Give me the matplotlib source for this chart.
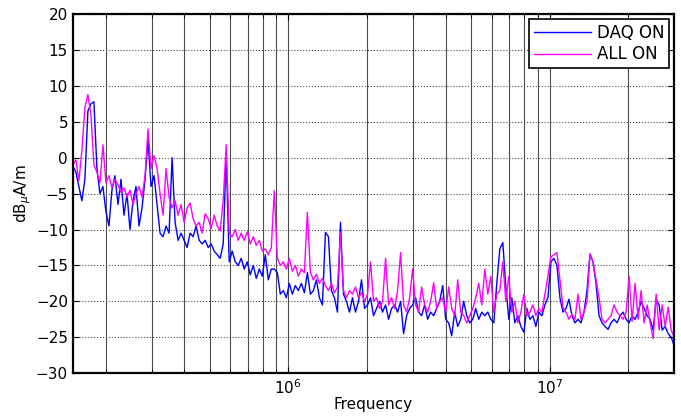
import numpy as np
import matplotlib
matplotlib.use('Agg')
import matplotlib.pyplot as plt
import matplotlib.ticker as mtick

# measured levels in dBuA/m, one value per sweep point (150 kHz .. 30 MHz, log sweep)
daq_on = [
    -1.2, -2.0, -4.0, -6.0, -3.0, 6.5, 7.5, 7.8, -1.5, -5.0,
    -4.0, -7.5, -9.5, -4.5, -2.5, -6.5, -3.0, -8.0, -5.0, -10.0,
    -6.0, -4.0, -9.5, -7.0, -3.0, 2.5, -4.0, -2.5, -6.5, -10.5,
    -11.0, -9.5, -10.5, 0.0, -9.0, -11.5, -10.5, -11.5, -12.5, -10.5,
    -11.0, -9.5, -11.5, -12.0, -11.5, -12.5, -12.0, -13.0, -13.5, -14.0,
    -12.0, 0.5, -14.5, -13.0, -14.5, -15.0, -14.0, -15.5, -14.5, -16.3,
    -15.0, -16.8, -15.5, -16.5, -13.5, -17.0, -15.5, -15.5, -16.0, -19.0,
    -18.5, -19.5, -17.5, -19.0, -17.8, -18.5, -17.5, -18.8, -16.0, -19.0,
    -18.5, -17.0, -19.5, -20.5, -10.4, -11.0, -18.5, -19.5, -21.5, -9.0,
    -19.0, -20.0, -21.5, -19.5, -21.5, -20.0, -17.0, -21.0, -20.5, -19.5,
    -22.0, -21.0, -20.0, -21.5, -20.5, -22.5, -21.0, -20.5, -21.5, -20.0,
    -24.5, -22.0, -21.0, -20.5, -19.5, -21.5, -22.0, -20.5, -22.5, -21.5,
    -22.0, -21.0, -20.0, -17.8, -22.5, -23.0, -24.8, -21.5, -23.5, -22.5,
    -20.0, -22.0, -23.0, -22.5, -21.0, -22.5, -21.5, -22.0, -21.5, -22.5,
    -23.0, -17.5, -12.7, -11.8, -18.0, -22.5, -19.5, -23.0, -22.0, -23.5,
    -24.3, -21.0, -22.5, -22.0, -23.5, -21.5, -22.0, -20.5, -19.5, -14.5,
    -14.0, -15.0, -19.5, -21.5, -21.0, -19.7, -22.0, -23.0, -22.5, -23.0,
    -21.5, -18.5, -13.4, -14.5, -17.5, -22.0, -23.0, -23.5, -23.9, -23.0,
    -22.5, -23.0, -22.0, -21.5, -22.5, -23.0, -22.0, -22.5, -21.5, -20.0,
    -21.0, -22.0, -22.5, -24.0, -19.7, -20.5, -24.0, -23.5, -24.5, -25.0,
    -26.2,
]
all_on = [
    -1.0, -0.3, -3.2, 1.0, 7.0, 8.8, 6.0, -1.0, -2.0, -3.5,
    1.8, -3.5, -2.5, -4.2, -3.0, -3.8, -4.8, -4.2, -5.5, -4.5,
    -6.5, -5.0, -4.0, -5.5, -2.5, 4.0, -1.5, 0.3, -1.5, -5.0,
    -8.0, -1.5, -5.5, -7.0, -6.0, -8.0, -6.5, -9.0, -7.0, -6.3,
    -8.5, -9.5, -9.0, -10.5, -7.8, -8.5, -9.8, -8.0, -9.5, -10.2,
    -6.0, 1.8, -10.5, -11.0, -10.0, -11.5, -10.5, -11.5, -10.3, -12.0,
    -11.0, -12.2, -11.5, -13.0, -12.7, -13.5, -12.5, -4.6, -14.0, -15.0,
    -14.5, -15.5, -14.0, -15.8, -15.0, -16.5, -15.5, -16.0, -7.6, -16.0,
    -17.0, -16.2, -17.5, -16.8, -17.8, -18.5, -17.5, -18.8, -18.0, -10.5,
    -18.5, -19.5, -18.5, -19.0, -18.0, -19.5, -18.8, -20.0, -19.0, -14.5,
    -20.0, -19.5, -21.0, -20.0, -14.0, -20.5, -19.5, -21.0, -18.5, -13.2,
    -20.5, -21.5, -19.5, -15.5, -20.5, -21.5, -18.0, -20.5, -21.5, -20.0,
    -17.4, -21.0, -20.0, -19.5, -21.5, -18.0, -21.0, -22.0, -17.0, -21.5,
    -22.0, -23.0, -22.0, -21.0, -19.5, -17.5, -20.5, -15.5, -19.0, -16.5,
    -21.5, -19.0, -18.5, -14.5, -20.0, -16.5, -21.5, -20.0, -23.0, -21.5,
    -19.0, -22.0, -21.5, -20.5, -22.0, -21.0, -21.5, -19.0, -16.5, -13.8,
    -13.5, -13.2, -17.0, -20.8, -21.5, -22.5, -21.8, -22.5, -19.0, -22.5,
    -21.5, -20.0, -13.4, -14.5, -17.0, -19.5, -22.5, -23.0, -22.5, -22.0,
    -20.5, -21.5, -22.0, -22.5, -21.5, -16.5, -22.8, -17.5, -22.5, -18.5,
    -23.0, -20.5, -23.0, -25.2, -19.0, -24.0, -20.5, -23.5, -20.8, -24.0,
    -25.0,
]
f_start, f_stop = 150e3, 30e6
y_ticks = [-30, -25, -20, -15, -10, -5, 0, 5, 10, 15, 20]

sweep = np.geomspace(f_start, f_stop, len(all_on))

plt.rcParams['font.family'] = ['DejaVu Sans']
fig = plt.figure(figsize=(6.81, 4.16), dpi=100)
ax = fig.add_axes([0.107, 0.103, 0.883, 0.863])

ax.plot(sweep, daq_on, color='#0000ff', lw=1.0, label='DAQ ON')
ax.plot(sweep, all_on, color='#ff00ff', lw=1.0, label='ALL ON')

ax.set_xscale('log')
ax.set_xlim(f_start, f_stop)
ax.set_ylim(-30, 20)
ax.set_yticks(y_ticks)
ax.xaxis.set_major_locator(mtick.LogLocator(base=10, numticks=10))
ax.xaxis.set_minor_locator(mtick.LogLocator(base=10, subs=np.arange(2, 10), numticks=20))
ax.xaxis.set_minor_formatter(mtick.NullFormatter())

# matlab style grid: solid verticals at every decade step, dotted horizontals
ax.grid(True, axis='x', which='both', color='0.3', lw=0.8, ls='-')
ax.grid(True, axis='y', which='major', color='0.3', lw=0.8, ls=':')
ax.set_axisbelow(True)

ax.tick_params(which='both', direction='in', top=True, right=True, labelsize=11, colors='black')
ax.tick_params(which='major', length=4)
ax.tick_params(which='minor', length=3)
for s in ax.spines.values():
    s.set_linewidth(1.6)

ax.set_xlabel('Frequency', fontsize=11, labelpad=0)
ax.set_ylabel(r'dB$_{\mu}$A/m', fontsize=11, labelpad=2)

leg = ax.legend(loc='upper right', fontsize=12, frameon=True, fancybox=False,
                borderaxespad=0.3, handlelength=3.4, handletextpad=0.35,
                borderpad=0.3, labelspacing=0.2)
leg.get_frame().set_edgecolor('black')
leg.get_frame().set_linewidth(1.2)
leg.get_frame().set_alpha(1.0)

fig.savefig('out.png', dpi=100)
